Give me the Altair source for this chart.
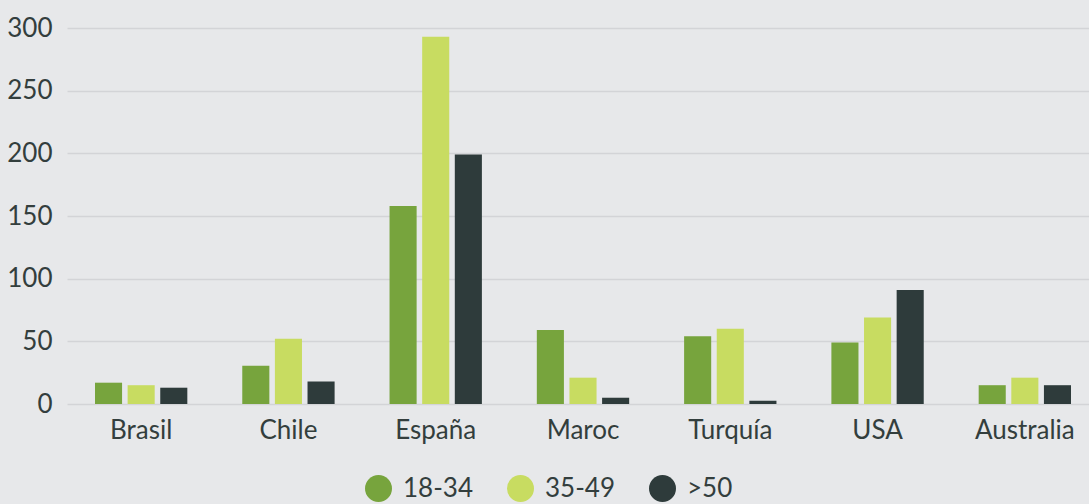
import altair as alt
import pandas as pd

countries = ["Brasil", "Chile", "España", "Maroc", "Turquía", "USA", "Australia"]
groups = ["18-34", "35-49", ">50"]
v_18_34 = [17, 30.5, 158, 59, 54, 49, 15]
v_35_49 = [15, 52, 293, 21, 60, 69, 21]
v_50 = [13, 18, 199, 5, 2.6, 91, 15]

rows = []
for i, c in enumerate(countries):
    for g, vals in zip(groups, [v_18_34, v_35_49, v_50]):
        rows.append({"country": c, "group": g, "value": vals[i]})
df = pd.DataFrame(rows)

BG = "#e7e8ea"
text_color = "#333e3d"
font = "Lato"

# Page template: no body margin, page background same as chart background
try:
    import jinja2
    import altair.utils.html as ahtml
    PAGE = jinja2.Template("""<!DOCTYPE html>
<html>
<head>
<style>
html, body { margin: 0; padding: 0; background: """ + BG + """; overflow: hidden; }
#{{ output_div }}.vega-embed { display: block; width: auto; }
.vega-embed svg { max-width: none !important; flex-shrink: 0; display: block; }
</style>
<script type="text/javascript" src="{{ base_url }}/vega@{{ vega_version }}"></script>
{%- if mode == 'vega-lite' %}
<script type="text/javascript" src="{{ base_url }}/vega-lite@{{ vegalite_version }}"></script>
{%- endif %}
<script type="text/javascript" src="{{ base_url }}/vega-embed@{{ vegaembed_version }}"></script>
</head>
<body>
<div id="{{ output_div }}"></div>
<script>
(function(vegaEmbed) {
  var spec = {{ spec }};
  var embedOpt = {{ embed_options }};
  vegaEmbed("#{{ output_div }}", spec, embedOpt).catch(function(e) {
    document.getElementById('{{ output_div }}').innerHTML = '<div style="color:red;">' + e.message + '</div>';
  });
})(vegaEmbed);
</script>
</body>
</html>
""")
    ahtml.TEMPLATES["standard"] = PAGE
    MARGIN = 0
except Exception:
    MARGIN = 8

chart = alt.Chart(df).mark_bar().encode(
    x=alt.X("country:N", sort=countries, title=None,
            scale=alt.Scale(paddingInner=0.373, paddingOuter=0.19),
            axis=alt.Axis(labelAngle=0, ticks=False, domain=False, labelPadding=13,
                          labelFontSize=26, labelColor=text_color, labelFont=font)),
    xOffset=alt.XOffset("group:N", sort=groups, scale=alt.Scale(paddingInner=0.17, paddingOuter=0)),
    y=alt.Y("value:Q", title=None, scale=alt.Scale(domain=[0, 300], nice=False),
            axis=alt.Axis(values=[0, 50, 100, 150, 200, 250, 300], ticks=False, domain=False,
                          labelPadding=15, labelFontSize=26, labelColor=text_color, labelFont=font,
                          gridColor="#d3d4d7", gridWidth=1.5)),
    color=alt.Color("group:N", sort=groups, title=None,
                    scale=alt.Scale(domain=groups, range=["#77a43d", "#c8dc61", "#2e3b3b"]),
                    legend=alt.Legend(orient="none", legendX=298, legendY=447, direction="horizontal",
                                      symbolType="circle", symbolSize=729, symbolStrokeWidth=0,
                                      labelFontSize=26, labelColor=text_color, labelFont=font,
                                      labelOffset=11, columnPadding=34, padding=0)),
).properties(
    width=1032 if MARGIN == 0 else 1014, height=376,
    background=BG,
    padding={"left": 67 - MARGIN, "top": 28 - MARGIN, "right": 0, "bottom": 100 - MARGIN},
    autosize=alt.AutoSizeParams(type="none"),
).configure_view(stroke=None).configure_legend(symbolOpacity=1)

chart.save("out.html", embed_options={"renderer": "svg", "actions": False})
